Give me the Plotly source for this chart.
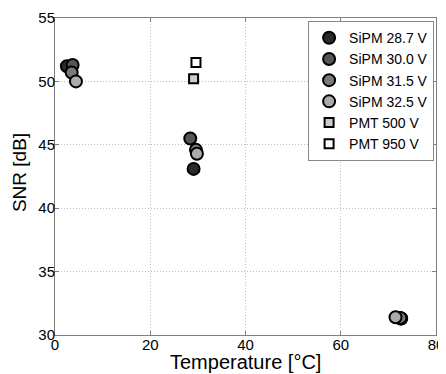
import plotly.graph_objects as go

# Data
temp_287 = [2.5, 29.1, 72.7]
snr_287 = [51.2, 43.1, 31.3]
temp_300 = [3.7, 28.4, 72.6]
snr_300 = [51.3, 45.5, 31.3]
temp_315 = [3.5, 29.6, 72.5]
snr_315 = [50.7, 44.6, 31.35]
temp_325 = [4.4, 29.8, 71.5]
snr_325 = [50.0, 44.3, 31.4]
temp_pmt500 = [29.1]
snr_pmt500 = [50.2]
temp_pmt950 = [29.6]
snr_pmt950 = [51.5]

names = ["SiPM 28.7 V", "SiPM 30.0 V", "SiPM 31.5 V", "SiPM 32.5 V", "PMT 500 V", "PMT 950 V"]
xs = [temp_287, temp_300, temp_315, temp_325, temp_pmt500, temp_pmt950]
ys = [snr_287, snr_300, snr_315, snr_325, snr_pmt500, snr_pmt950]
colors = ["#2b2b2b", "#555555", "#7a7a7a", "#ababab", "#cccccc", "#ffffff"]
symbols = ["circle", "circle", "circle", "circle", "square", "square"]
sizes = [12, 12, 12, 12, 9, 9]

fig = go.Figure()
for n, x, y, c, s, sz in zip(names, xs, ys, colors, symbols, sizes):
    fig.add_trace(go.Scatter(
        x=x, y=y, mode="markers", name=n,
        marker=dict(symbol=s, size=sz, color=c, line=dict(color="black", width=2)),
    ))

font_family = "Arial, Liberation Sans, sans-serif"
fig.update_layout(
    width=438, height=366,
    margin=dict(l=47, r=10, t=10, b=39),
    paper_bgcolor="white", plot_bgcolor="white",
    font=dict(family=font_family, color="black", size=15),
    showlegend=True,
    legend=dict(
        x=0.995, y=0.99, xanchor="right", yanchor="top",
        bgcolor="white", bordercolor="#888888", borderwidth=1,
        font=dict(size=14, family=font_family),
        itemwidth=30, tracegroupgap=0,
    ),
    annotations=[
        dict(text="Temperature [°C]", xref="paper", yref="paper", x=0.5, y=-0.085,
             xanchor="center", yanchor="middle", showarrow=False,
             font=dict(size=20, family=font_family, color="black")),
        dict(text="SNR [dB]", xref="paper", yref="paper", x=-0.0945, y=0.514,
             xanchor="center", yanchor="middle", showarrow=False, textangle=-90,
             font=dict(size=19, family=font_family, color="black")),
    ],
)
axis_common = dict(
    showline=True, linecolor="#7f7f7f", linewidth=1, mirror="ticks",
    ticks="inside", ticklen=4, tickcolor="#7f7f7f",
    showgrid=True, gridcolor="#bdbdbd", griddash="1px,2px", gridwidth=1,
    zeroline=False, tickfont=dict(size=15, family=font_family, color="black"),
    automargin=False, ticklabelstandoff=-4,
)
fig.update_xaxes(range=[0, 80], tickvals=[0, 20, 40, 60, 80], **axis_common)
fig.update_yaxes(range=[30, 55], tickvals=[30, 35, 40, 45, 50, 55], **axis_common)

fig.write_html("out.html")
